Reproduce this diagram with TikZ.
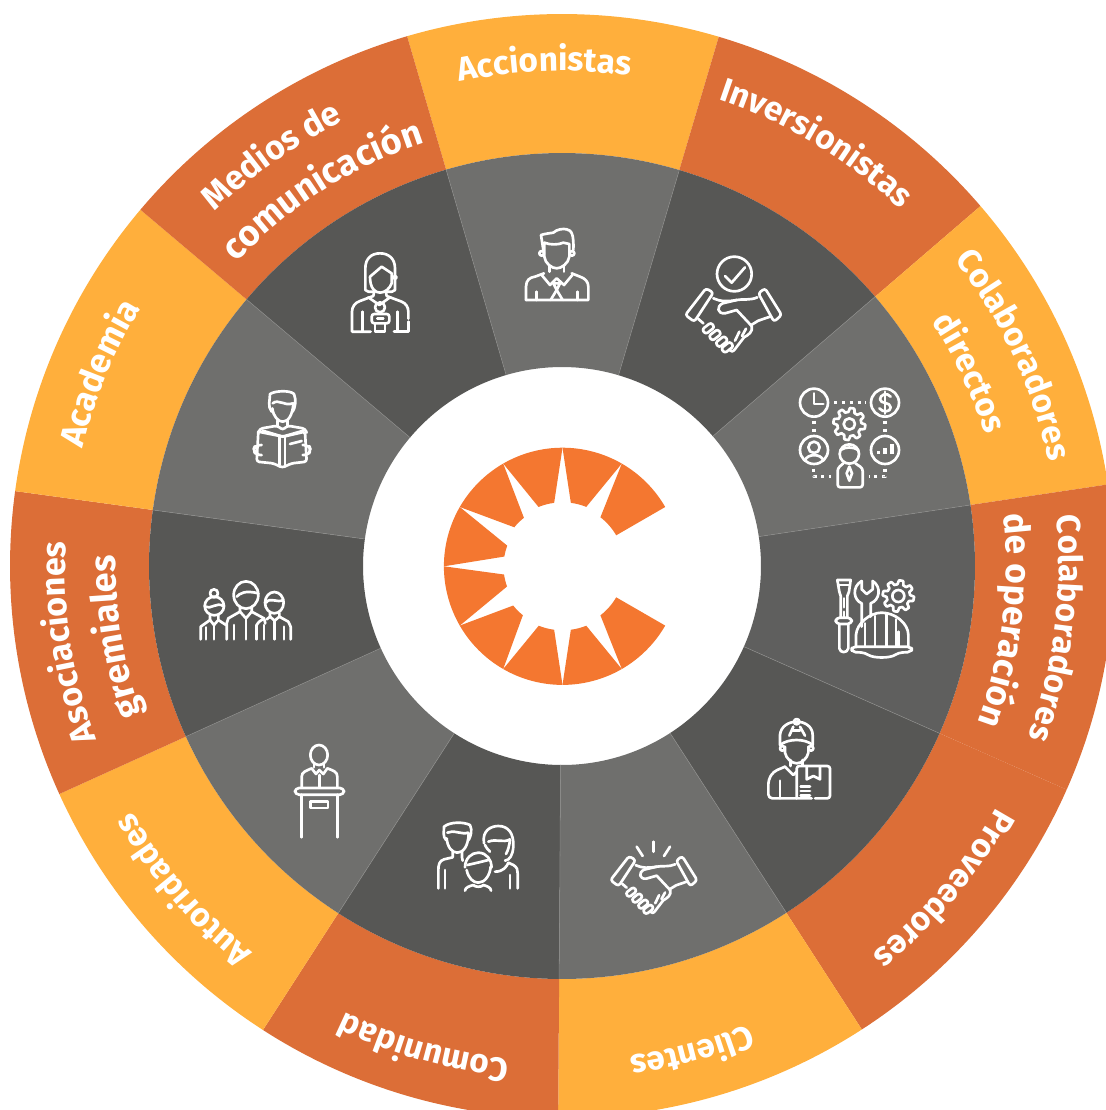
\documentclass[tikz,border=0pt]{standalone}
\usepackage{fontspec}
\setmainfont{Fira Sans}
\usetikzlibrary{decorations.text}
\definecolor{orD}{HTML}{DC6E37}
\definecolor{orL}{HTML}{FFAF3C}
\definecolor{grD}{HTML}{575755}
\definecolor{grM}{HTML}{6F6F6D}
\definecolor{grR}{HTML}{5F5F5E}
\definecolor{logoC}{HTML}{F47730}
\definecolor{sepC}{HTML}{8C8C8A}
\tikzset{icon/.style={draw=white,line width=2pt,line cap=round,line join=round},
 zoomed/.style={shift={(#1)},x=.25pt,y=-.25pt,every path/.style={icon}},
 dots/.style={line width=2.5pt,line cap=butt,dash pattern=on 2.5pt off 3.4pt}}
\newcommand\seg[5]{\pgfmathsetmacro\sa{90-#1}\pgfmathsetmacro\sb{90-#2}%
 \fill[#5] (\sa:#3) arc[start angle=\sa,end angle=\sb,radius=#3] -- (\sb:#4) arc[start angle=\sb,end angle=\sa,radius=#4] -- cycle;}
\newcommand\arctext[4][25]{\pgfmathsetmacro\sa{90-#2+55}\pgfmathsetmacro\sb{90-#2-55}%
 \path[decorate,decoration={text along path,text align=center,text={|\fontsize{#1}{#1}\selectfont\bfseries\color{white}|#4}}] (\sa:#3) arc[start angle=\sa,end angle=\sb,radius=#3];}
\newcommand\gearshape[4]{\draw[smooth] plot[domain=0:360,samples=145] ({#1+(#3+#4*max(-1,min(1,2.2*sin(8*\x+#4))))*cos(\x)},{#2+(#3+#4*max(-1,min(1,2.2*sin(8*\x+#4))))*sin(\x)}) -- cycle;}
\newcommand\capsule[3]{\draw[shift={(#1,#2)},rotate=#3,rounded corners=1.8pt] (-17,-9) rectangle (17,9);}
\newcommand\handshake{%
 \draw[rounded corners=2pt] (108,115)--(130,128)--(73,215)--(46,195)--cycle;
 \draw[rounded corners=2pt] (285,115)--(265,130)--(312,215)--(335,195)--cycle;
 \draw (130,145) .. controls (150,155) and (175,155) .. (200,150) .. controls (220,146) and (240,152) .. (262,142);
 \draw (200,150) -- (158,160) .. controls (138,170) and (142,192) .. (165,190) -- (200,180) -- (245,228);
 \draw (300,200) -- (265,212) -- (242,226);
 \draw (85,207) -- (100,220);
 \capsule{115}{235}{38}
 \capsule{135}{255}{38}
 \capsule{155}{275}{38}
 \capsule{172}{292}{38}
 \draw (245,228) .. controls (250,245) and (235,255) .. (222,262) -- (196,296) .. controls (190,306) and (182,306) .. (178,300);
 \draw (195,272) -- (208,245);
 \draw (216,258) -- (228,236);
}
\begin{document}
\begin{tikzpicture}[x=.75pt,y=.75pt]
\useasboundingbox (0,0) rectangle (1106,-1110);
\clip (0,0) rectangle (1106,-1110);
\begin{scope}[shift={(562,-566)}]
\foreach \a/\b/\co/\cm in {-16.3/16.5/orL/grM,16.5/49.3/orD/grD,49.3/81.5/orL/grM,81.5/113.9/orD/grR,113.9/147.1/orD/grD,147.1/180.4/orL/grM,180.4/212.8/orD/grD,212.8/245.6/orL/grM,245.6/277.8/orD/grD,277.8/310.2/orL/grM,310.2/343.7/orD/grD}{
 \seg{\a}{\b}{552}{413}{\co}
 \seg{\a}{\b}{413}{199}{\cm}
}
\foreach \a in {-16.3,16.5,49.3,81.5,113.9,147.1,180.4,212.8,245.6,277.8,310.2}{
 \pgfmathsetmacro\m{90-\a}
 \draw[sepC,line width=.4pt] (\m:199) -- (\m:413);
}
% logo
\begin{scope}[shift={(.5,-.3)}]
\foreach \p/\q/\u/\v/\r in {0/30/7.5/21.8/64,30/60/37.7/60/62,120/150/120/142.3/62,150/180/158.2/172.5/64,180/210/187.5/201.8/64,210/240/219/231.5/63,240/270/250/262/59,270/300/279.5/290.5/59,300/330/309/321.5/62,330/360/338/352.5/64}{
 \pgfmathsetmacro\sa{90-\p}\pgfmathsetmacro\sb{90-\q}\pgfmathsetmacro\ua{90-\u}\pgfmathsetmacro\ub{90-\v}
 \fill[logoC] (\sa:118.6) arc[start angle=\sa,end angle=\sb,radius=118.6] -- (\ub:\r) arc[start angle=\ub,end angle=\ua,radius=\r] -- cycle;
}
\end{scope}
\arctext{-2}{495}{Accionistas}
\arctext{31}{492}{Inversionistas}
\arctext{65}{498}{Colaboradores}
\arctext{64.7}{443}{directos}
\arctext{97.2}{497}{Colaboradores}
\arctext[26.5]{97}{444}{de operación}
\arctext{130.2}{497}{Proveedores}
\arctext{165}{495}{Clientes}
\arctext{196}{496}{Comunidad}
\arctext{229.5}{495}{Autoridades}
\arctext[25.5]{261.2}{497}{Asociaciones}
\arctext[27]{261}{446}{gremiales}
\arctext[25.8]{292.6}{494}{Academia}
\arctext[25.4]{324.7}{496}{Medios de}
\arctext[27]{327.5}{445}{comunicación}
\end{scope}
% woman + man
\begin{scope}[zoomed={340,-220}]
\draw (100,215) -- (85,215) -- (76,210) -- (76,145) .. controls (76,115) and (95,100) .. (120,100) .. controls (145,100) and (165,115) .. (165,145) -- (165,210) -- (156,215) -- (140,215);
\draw (90,170) -- (125,140) -- (155,160) -- (155,190) .. controls (150,205) and (135,218) .. (120,218) .. controls (105,218) and (90,205) .. (90,170);
\draw (165,172) circle[radius=5];
\draw (102,218) -- (100,228) -- (60,243) .. controls (45,248) and (36,260) .. (36,275) -- (36,335) -- (92,335);
\draw (138,218) -- (140,228) -- (185,245) .. controls (198,250) and (205,262) .. (205,275) -- (205,296);
\draw (205,305) -- (205,335) -- (162,335);
\draw (85,232) -- (118,255) -- (150,232);
\draw (120,262) circle[radius=15];
\draw[rounded corners=2pt] (95,282) rectangle (148,310);
\draw (112,296) -- (130,296);
\draw (105,310) -- (105,335) -- (135,335) -- (135,310);
\draw (68,275) -- (68,335); \draw (172,275) -- (172,335);
\draw (610,90) -- (603,45) .. controls (620,40) and (630,40) .. (640,38) .. controls (650,28) and (670,25) .. (680,28) .. controls (695,30) and (702,45) .. (700,90);
\draw (613,68) .. controls (630,75) and (655,75) .. (670,68) -- (688,72) -- (688,110) .. controls (685,130) and (665,145) .. (650,145) .. controls (635,145) and (615,130) .. (613,110) -- cycle;
\draw (605,100) circle[radius=7]; \draw (696,100) circle[radius=7];
\draw (628,137) -- (628,155); \draw (672,137) -- (672,155);
\draw (558,240) -- (558,200) .. controls (558,180) and (570,172) .. (585,170) -- (612,160);
\draw (695,160) -- (720,170) .. controls (735,175) and (745,185) .. (745,200) -- (745,240) -- (558,240);
\draw (605,165) -- (630,195) -- (650,175) -- (672,195) -- (697,165);
\draw (640,190) -- (660,190) -- (650,210) -- cycle;
\draw (650,210) -- (632,240); \draw (650,210) -- (668,240);
\draw (590,215) -- (590,240); \draw (712,215) -- (712,240);
\end{scope}
% handshake with check + process
\begin{scope}[zoomed={670,-250}]
\draw (193,72) circle[radius=52];
\draw (165,78) -- (185,98) -- (225,52);
\handshake
\draw (432,458) circle[radius=42]; \draw (432,430) -- (432,462) -- (460,462);
\draw (645,458) circle[radius=42];
\draw (662,440) .. controls (650,425) and (630,435) .. (630,448) .. controls (630,462) and (662,455) .. (662,472) .. controls (662,487) and (638,488) .. (628,475);
\draw (645,425) -- (645,491);
\draw (432,600) circle[radius=42]; \draw (432,592) circle[radius=17];
\draw (405,632) .. controls (410,610) and (455,610) .. (460,632);
\draw (645,600) circle[radius=42];
\draw[line width=2.6pt,line cap=butt] (625,603) -- (625,612); \draw[line width=2.6pt,line cap=butt] (645,595) -- (645,612); \draw[line width=2.6pt,line cap=butt] (666,583) -- (666,612);
\draw[dots] (492,458) -- (588,458);
\draw[dots] (432,512) -- (432,548);
\draw[dots] (645,512) -- (645,548);
\draw[dots] (430,656) -- (430,680) -- (482,680);
\draw[dots] (645,656) -- (645,680) -- (596,680);
\gearshape{538}{522}{42}{6}
\draw (538,522) circle[radius=17];
\draw (538,612) circle[radius=29];
\draw (512,600) .. controls (525,590) and (550,590) .. (565,600);
\draw[rounded corners=2pt] (520,640) -- (503,655) -- (503,712) -- (578,712) -- (578,655) -- (556,640);
\draw (538,650) -- (530,670) -- (538,692) -- (546,670) -- cycle;
\end{scope}
% tools + delivery
\begin{scope}[zoomed={750,-570}]
\draw (262,30) -- (302,30) -- (297,65) -- (292,78) -- (292,142);
\draw (262,30) -- (268,65) -- (272,78) -- (272,142);
\draw (265,45) -- (300,45);
\draw (282,85) -- (282,112); \draw (282,125) -- (282,142);
\draw[rounded corners=3pt] (257,143) rectangle (305,162);
\draw (268,162) -- (268,235) .. controls (270,250) and (292,250) .. (295,235) -- (295,162);
\draw (335,33) .. controls (305,50) and (310,90) .. (335,100) -- (335,170);
\draw (368,33) .. controls (395,50) and (390,90) .. (362,100) -- (362,140);
\draw (335,33) -- (335,58) -- (350,72) -- (368,58) -- (368,33);
\gearshape{445}{78}{41}{6}
\draw (445,78) circle[radius=18];
\draw (318,232) -- (318,195) .. controls (320,160) and (360,128) .. (395,128) .. controls (435,128) and (475,160) .. (475,195) -- (475,232);
\draw[rounded corners=3pt] (305,230) -- (485,230) -- (485,246) -- (445,248) .. controls (420,265) and (370,265) .. (345,248) -- (305,246) -- cycle;
\draw (345,160) -- (345,228); \draw (375,138) -- (375,228); \draw (410,132) -- (410,228); \draw (438,148) -- (438,228); \draw (446,185) -- (446,228);
\draw (90,525) -- (90,495) .. controls (92,470) and (115,455) .. (140,455) .. controls (165,455) and (188,470) .. (188,495) -- (188,525);
\draw (90,525) .. controls (115,505) and (165,505) .. (188,525);
\draw (140,455) circle[radius=8];
\draw (118,497) -- (130,470); \draw (150,470) -- (165,497); \draw (128,482) -- (150,482);
\draw (105,530) -- (105,548) .. controls (108,565) and (125,580) .. (140,580) .. controls (155,580) and (172,565) .. (175,548) -- (175,530);
\draw (97,535) circle[radius=7]; \draw (183,535) circle[radius=7];
\draw (122,570) -- (122,588); \draw (158,570) -- (158,585);
\draw[rounded corners=3pt] (105,590) -- (70,605) -- (55,630) -- (55,685) -- (185,685);
\draw (105,590) -- (130,615) -- (140,605);
\draw[rounded corners=2pt] (195,685) -- (240,685) -- (240,588) -- (140,588) -- (140,685);
\draw (170,590) -- (170,628) -- (190,618) -- (210,628) -- (210,590);
\draw (152,650) -- (180,650); \draw (152,663) -- (180,663); \draw (152,676) -- (180,676);
\draw (90,632) -- (90,685);
\end{scope}
% family + handshake 2
\begin{scope}[zoomed={420,-810}]
\draw (78,90) .. controls (68,80) and (72,65) .. (72,50) .. controls (90,35) and (130,35) .. (150,45) .. controls (158,60) and (152,80) .. (146,90);
\draw (82,68) .. controls (100,58) and (125,75) .. (145,68);
\draw (80,85) .. controls (82,110) and (95,128) .. (112,128) .. controls (130,128) and (145,108) .. (146,70);
\draw (98,125) -- (98,142) -- (72,148) .. controls (58,152) and (55,165) .. (55,180) -- (55,235);
\draw (126,125) -- (126,142) -- (128,152);
\draw (75,180) -- (75,235);
\draw (192,100) .. controls (185,60) and (215,48) .. (235,48) .. controls (265,48) and (282,70) .. (280,110) .. controls (278,135) and (270,150) .. (255,152);
\draw (205,95) .. controls (230,85) and (250,100) .. (270,88);
\draw (195,105) .. controls (200,115) and (205,120) .. (210,125);
\draw (258,132) .. controls (265,120) and (268,105) .. (270,90);
\draw (225,185) .. controls (250,185) and (260,170) .. (265,158) -- (280,165) .. controls (292,172) and (293,180) .. (293,190) -- (293,235);
\draw (270,195) -- (270,235);
\draw (135,172) .. controls (135,145) and (155,128) .. (175,128) .. controls (200,128) and (215,150) .. (215,172);
\draw (142,165) .. controls (165,160) and (185,155) .. (205,150);
\draw (140,180) .. controls (145,205) and (160,218) .. (175,218) .. controls (195,218) and (210,195) .. (212,170);
\draw (135,242) .. controls (135,232) and (150,228) .. (160,225);
\draw (213,242) .. controls (213,232) and (200,228) .. (190,225);
\draw (160,225) .. controls (165,232) and (185,232) .. (190,225);
\draw (650,110) -- (668,138); \draw (700,95) -- (700,125); \draw (750,110) -- (732,138);
\begin{scope}[shift={(530,35)},x=.225pt,y=-.225pt]\handshake\end{scope}
\end{scope}
% reading + team + podium
\begin{scope}[zoomed={190,-380}]
\draw (245,95) .. controls (232,80) and (240,60) .. (240,42) .. controls (255,32) and (300,30) .. (312,42) .. controls (320,60) and (315,85) .. (308,95);
\draw (248,70) .. controls (265,55) and (285,80) .. (308,70);
\draw (247,85) .. controls (250,110) and (265,125) .. (278,125) .. controls (295,125) and (308,105) .. (310,70);
\draw (262,122) -- (262,137); \draw (293,122) -- (293,137);
\draw[rounded corners=2pt] (205,158) -- (210,146) -- (262,137) -- (278,150) -- (293,137) -- (345,146) -- (350,158);
\draw (218,152) -- (278,170) -- (340,152);
\draw[rounded corners=2pt] (205,155) -- (200,245) -- (250,250) -- (277,263) -- (305,250) -- (350,245) -- (345,155) -- (280,170) -- (205,155);
\draw (268,170) -- (268,255); \draw (285,170) -- (285,255);
\draw (300,192) -- (335,183);
\draw[rounded corners=3pt] (215,195) -- (195,197) -- (190,210) -- (198,225) -- (215,225);
\draw[rounded corners=3pt] (338,195) -- (358,197) -- (362,210) -- (355,225) -- (338,225);
% team
\draw (72,640) circle[radius=12];
\draw (73,678) ellipse[x radius=29,y radius=28];
\draw (47,680) .. controls (60,690) and (80,665) .. (100,678);
\draw (60,706) -- (60,720) -- (32,740) -- (32,778); \draw (48,742) -- (48,778);
\draw (85,706) -- (85,720) -- (108,735);
\draw (60,720) -- (72,735) -- (85,720); \draw (72,735) -- (72,778);
\draw (168,645) ellipse[x radius=37,y radius=41];
\draw (140,650) .. controls (150,640) and (165,630) .. (205,640);
\draw (150,680) -- (150,695) -- (115,715) -- (110,730) -- (110,778); \draw (132,735) -- (132,778);
\draw (185,680) -- (185,695) -- (222,715) -- (226,730);
\draw (150,695) -- (168,715) -- (185,695); \draw (168,715) -- (168,778);
\draw (200,735) -- (200,778); \draw (222,735) -- (222,778);
\draw (200,735) .. controls (205,725) and (215,720) .. (222,715);
\draw (253,668) ellipse[x radius=28,y radius=32];
\draw (228,668) .. controls (240,650) and (260,670) .. (280,660);
\draw (240,698) -- (240,710) -- (230,718); \draw (268,698) -- (268,710) -- (295,725) -- (302,740) -- (302,778);
\draw (240,710) -- (254,722) -- (268,710); \draw (254,722) -- (254,778); \draw (282,740) -- (282,778);
% podium
\draw (387,1125) ellipse[x radius=26,y radius=30];
\draw (372,1152) -- (372,1162); \draw (402,1152) -- (402,1162);
\draw (335,1222) -- (335,1190) .. controls (335,1175) and (350,1172) .. (365,1165) -- (378,1182) -- (388,1170) -- (400,1182) -- (412,1165) .. controls (430,1172) and (442,1175) .. (442,1190) -- (442,1222);
\draw (388,1185) -- (388,1222);
\draw[rounded corners=3pt] (315,1224) rectangle (462,1244);
\draw (335,1244) -- (335,1372); \draw (442,1244) -- (442,1372);
\draw (362,1264) rectangle (414,1284);
\end{scope}
\end{tikzpicture}
\end{document}
